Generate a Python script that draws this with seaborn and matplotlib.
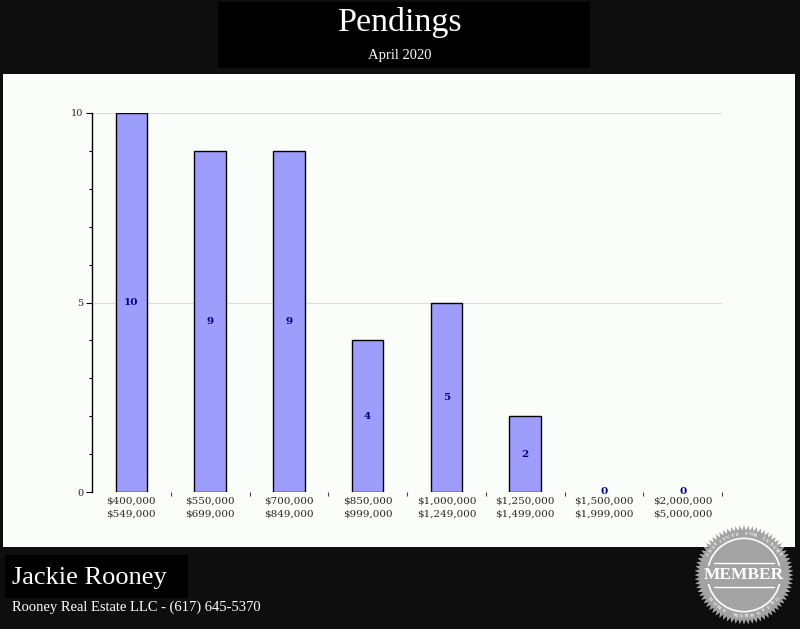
import numpy as np
import pandas as pd
import matplotlib
matplotlib.use("Agg")
import matplotlib.pyplot as plt
from matplotlib.patches import Rectangle, Polygon, Circle
import seaborn as sns

# ---- data ----
categories = ["$400,000\n$549,000", "$550,000\n$699,000", "$700,000\n$849,000",
              "$850,000\n$999,000", "$1,000,000\n$1,249,000", "$1,250,000\n$1,499,000",
              "$1,500,000\n$1,999,000", "$2,000,000\n$5,000,000"]
values = [10, 9, 9, 4, 5, 2, 0, 0]
y_ticks = [0, 5, 10]
title = "Pendings"
subtitle = "April 2020"
agent = "Jackie Rooney"
company = "Rooney Real Estate LLC - (617) 645-5370"

sns.set_theme(style="white")
SERIF = ["Liberation Serif", "DejaVu Serif"]
WIDE = ["DejaVu Serif"]
plt.rcParams["font.family"] = SERIF

W, H = 800, 629
fig = plt.figure(figsize=(W / 100, H / 100), dpi=100)
fig.patch.set_facecolor("#0e0e0e")

def fx(x): return x / W
def fy(y): return 1 - y / H

# white panel
fig.patches.append(Rectangle((fx(3), fy(547)), fx(795) - fx(3), fy(74) - fy(547),
                             transform=fig.transFigure, facecolor="#fbfdfb",
                             edgecolor="none", zorder=-10))
# title box
fig.patches.append(Rectangle((fx(218), fy(68)), fx(590) - fx(218), fy(2) - fy(68),
                             transform=fig.transFigure, facecolor="#000000",
                             edgecolor="none", zorder=-10))
fig.text(0.5, fy(23), title, color="white", fontsize=24.5, ha="center", va="center")
fig.text(0.5, fy(55), subtitle, color="white", fontsize=10.5, ha="center", va="center")

# footer name box
fig.patches.append(Rectangle((fx(5), fy(598)), fx(188) - fx(5), fy(555) - fy(598),
                             transform=fig.transFigure, facecolor="#000000",
                             edgecolor="none", zorder=-10))
fig.text(fx(12), fy(578), agent, color="white", fontsize=19, ha="left", va="center")
fig.text(fx(12), fy(607), company, color="white", fontsize=10.5, ha="left", va="center")

# ---- chart ----
ax = fig.add_axes([fx(92), fy(492), fx(722) - fx(92), fy(113) - fy(492)])
ax.set_facecolor("none")
df = pd.DataFrame({"range": categories, "count": values})
sns.barplot(data=df, x="range", y="count", color="#9d9dfb", saturation=1,
            edgecolor="black", linewidth=1.0, width=0.4, ax=ax, zorder=3)
for p in ax.patches:
    if p.get_height() == 0:
        p.set_edgecolor("none")
ax.set_xlim(-0.5, len(categories) - 0.5)
ax.set_ylim(0, 10)
ax.set_xlabel("")
ax.set_ylabel("")
for s in ["top", "right", "bottom"]:
    ax.spines[s].set_visible(False)
ax.spines["left"].set_color("black")
ax.spines["left"].set_linewidth(1.0)
ax.set_yticks(y_ticks)
ax.set_yticklabels([str(t) for t in y_ticks], fontsize=7, family=WIDE)
ax.set_yticks(range(0, 11), minor=True)
ax.tick_params(axis="y", which="major", left=True, length=4, width=0.8, color="black", pad=2)
ax.tick_params(axis="y", which="minor", left=True, length=2.5, width=0.8, color="black")
for t in [5, 10]:
    ax.axhline(t, color="#dcdcdc", linewidth=0.9, zorder=1)
ax.set_xticks(range(len(categories)))
ax.set_xticklabels(categories, fontsize=7.5, linespacing=1.55, family=WIDE)
ax.tick_params(axis="x", which="major", bottom=False, length=0, pad=3)
ax.set_xticks(np.arange(0.5, len(categories), 1.0), minor=True)
ax.tick_params(axis="x", which="minor", bottom=True, length=3, width=0.8, color="#444444")

for i, v in enumerate(values):
    ax.text(i, v / 2, str(v), ha="center", va="center", fontsize=7.5, family=WIDE,
            fontweight="bold", color="#000080", zorder=4)

# ---- member badge ----
bx = fig.add_axes([fx(692), fy(627), fx(796) - fx(692), fy(523) - fy(627)])
bx.set_xlim(-1.05, 1.05)
bx.set_ylim(-1.05, 1.05)
bx.set_aspect("equal")
bx.axis("off")
n = 72
ang = np.linspace(0, 2 * np.pi, 2 * n, endpoint=False)
rad = np.where(np.arange(2 * n) % 2 == 0, 1.0, 0.9)
bx.add_patch(Polygon(np.c_[rad * np.cos(ang), rad * np.sin(ang)], closed=True,
                     facecolor="#a3a3a3", edgecolor="none"))
bx.add_patch(Circle((0, 0), 0.74, facecolor="none", edgecolor="white", linewidth=1.2))
bx.plot([-0.6, 0.6], [0.25, 0.25], color="white", lw=1.0)
bx.plot([-0.6, 0.6], [-0.25, -0.25], color="white", lw=1.0)
bx.text(0, 0, "MEMBER", color="white", fontsize=12.5, fontweight="bold",
        ha="center", va="center",
        bbox=dict(facecolor="#a3a3a3", edgecolor="none", pad=0.5))

def arc_text(txt, r, start, end, top=True):
    angs = np.linspace(start, end, len(txt))
    for ch, a in zip(txt, angs):
        rot = np.degrees(a) - 90 if top else np.degrees(a) + 90
        bx.text(r * np.cos(a), r * np.sin(a), ch, color="white", fontsize=3.6,
                fontweight="bold", ha="center", va="center", rotation=rot)

arc_text("INSTITUTE FOR LUXURY", 0.83, np.radians(150), np.radians(30), top=True)
arc_text("HOME MARKETING", 0.83, np.radians(215), np.radians(325), top=False)

fig.savefig("out.png", dpi=100, facecolor=fig.get_facecolor())
